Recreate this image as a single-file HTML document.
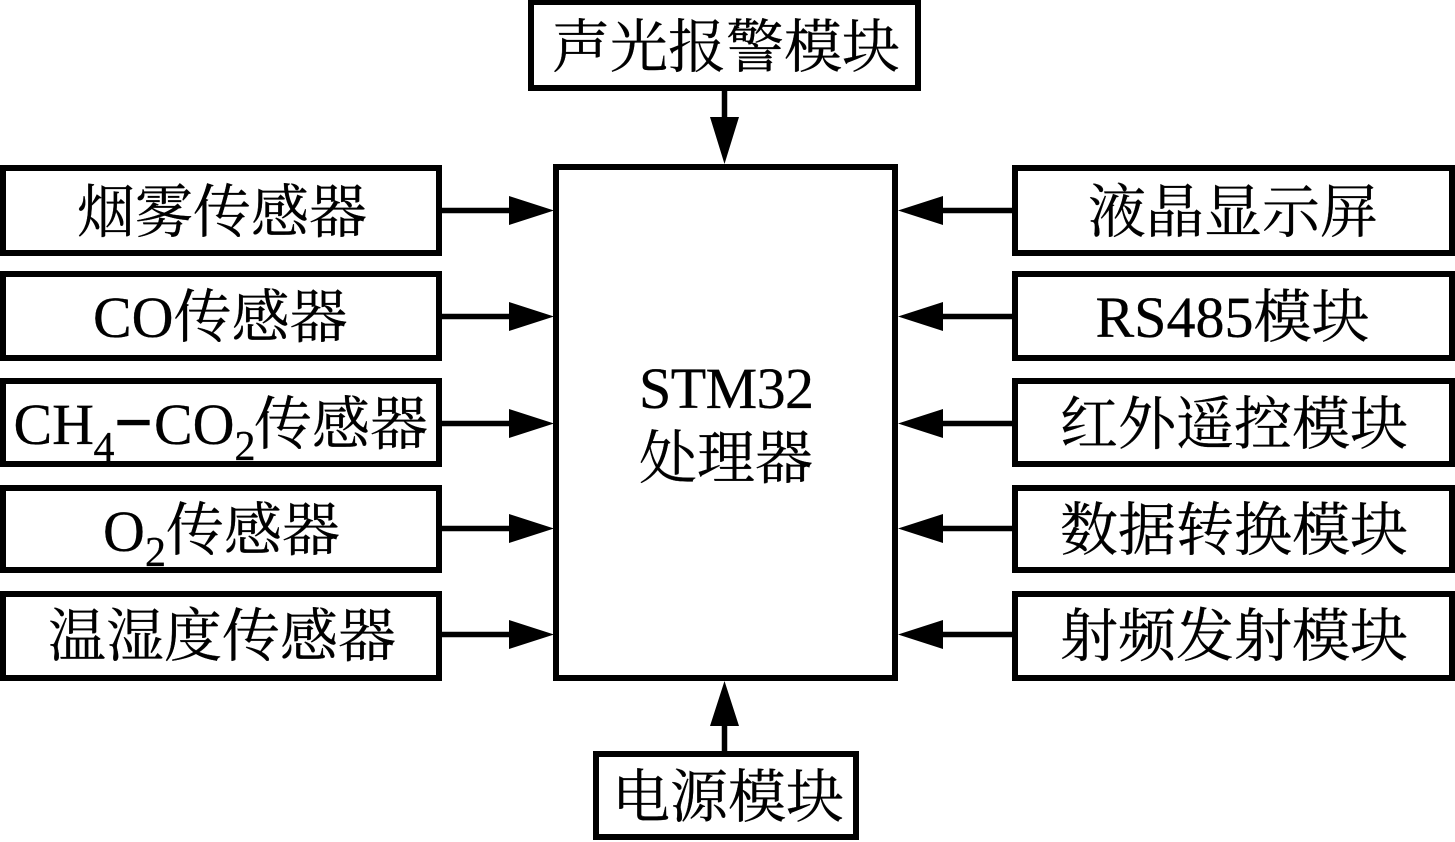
<!DOCTYPE html>
<html><head><meta charset="utf-8"><style>
html,body{margin:0;padding:0;background:#fff;width:1455px;height:842px;overflow:hidden}
svg{display:block}
text{font-family:"Liberation Serif","Noto Serif CJK SC",serif;font-size:58px;fill:#000;stroke:#000;stroke-width:.3px}
.s{font-size:42px}
.d{stroke-width:2.5px}
</style></head><body>
<svg width="1455" height="842" viewBox="0 0 1455 842" xmlns="http://www.w3.org/2000/svg">
<rect width="1455" height="842" fill="#fff"/>
<g fill="none" stroke="#000" stroke-width="6">
<rect x="531" y="2" width="387" height="86"/>
<rect x="556" y="167" width="339" height="511"/>
<rect x="596" y="754" width="260" height="83"/>
<rect x="3" y="168" width="436" height="85"/>
<rect x="3" y="274" width="436" height="84"/>
<rect x="3" y="381" width="436" height="83"/>
<rect x="3" y="488" width="436" height="82"/>
<rect x="3" y="594" width="436" height="84"/>
<rect x="1015" y="168" width="437" height="85"/>
<rect x="1015" y="274" width="437" height="84"/>
<rect x="1015" y="381" width="437" height="83"/>
<rect x="1015" y="488" width="437" height="82"/>
<rect x="1015" y="594" width="437" height="84"/>
</g>
<g stroke="#000" stroke-width="5.500">
<path d="M442 210.500H515M442 316.500H515M442 423.500H515M442 528.500H515M442 634.500H515"/>
<path d="M1013 210.500H940M1013 316.500H940M1013 423.500H940M1013 528.500H940M1013 634.500H940"/>
<path d="M724.500 91V122M724.500 751V720"/>
</g>
<g fill="#000">
<path d="M509 196L554 210.500L509 225ZM509 302L554 316.500L509 331ZM509 409L554 423.500L509 438ZM509 514L554 528.500L509 543ZM509 620L554 634.500L509 649Z"/>
<path d="M943 196L898 210.500L943 225ZM943 302L898 316.500L943 331ZM943 409L898 423.500L943 438ZM943 514L898 528.500L943 543ZM943 620L898 634.500L943 649Z"/>
<path d="M710 117L724.500 164L739 117ZM710 726L724.500 681L739 726Z"/>
</g>
<text x="552" y="67">声光报警模块</text>
<text x="639" y="408" textLength="175">STM32</text>
<text x="639" y="478">处理器</text>
<text x="612" y="817">电源模块</text>
<text x="77" y="232">烟雾传感器</text>
<text x="93" y="337">CO传感器</text>
<text x="13.500" y="444">CH</text><text class="s" x="93.500" y="461">4</text><text class="d" x="119" y="436">–</text><text x="154" y="444">CO</text><text class="s" x="234.500" y="460">2</text><text x="254" y="444">传感器</text>
<text x="103" y="551">O</text><text class="s" x="145" y="566">2</text><text x="166" y="550">传感器</text>
<text x="48" y="656">温湿度传感器</text>
<text x="1088" y="232">液晶显示屏</text>
<text x="1095.500" y="337">RS485模块</text>
<text x="1060" y="444">红外遥控模块</text>
<text x="1060" y="550">数据转换模块</text>
<text x="1060" y="656">射频发射模块</text>
</svg>
</body></html>
